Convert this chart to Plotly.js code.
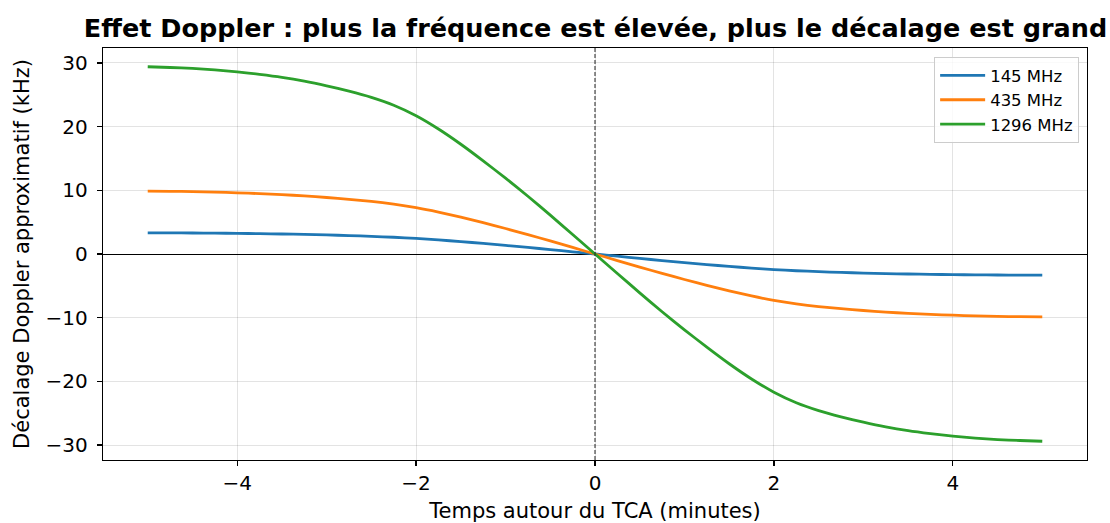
<!DOCTYPE html>
<html>
<head>
<meta charset="utf-8">
<script src="https://cdn.plot.ly/plotly-3.0.1.min.js"></script>
<style>html,body{margin:0;padding:0;background:#fff;}#chart{width:1110px;height:523px;}</style>
</head>
<body>
<div id="chart"></div>
<script>
const timeMin = [-5, -4.75, -4.5, -4.25, -4, -3.75, -3.5, -3.25, -3, -2.75, -2.5, -2.25, -2, -1.75, -1.5, -1.25, -1, -0.75, -0.5, -0.25, 0,
                 0.25, 0.5, 0.75, 1, 1.25, 1.5, 1.75, 2, 2.25, 2.5, 2.75, 3, 3.25, 3.5, 3.75, 4, 4.25, 4.5, 4.75, 5];
const shift145 = [3.33, 3.32, 3.30, 3.27, 3.24, 3.19, 3.14, 3.07, 2.99, 2.89, 2.77, 2.63, 2.45, 2.21, 1.95, 1.66, 1.35, 1.03, 0.69, 0.35, 0,
                  -0.35, -0.69, -1.03, -1.35, -1.66, -1.95, -2.21, -2.45, -2.63, -2.77, -2.89, -2.99, -3.07, -3.14, -3.19, -3.24, -3.27, -3.30, -3.32, -3.33];
const shift435 = [9.87, 9.84, 9.79, 9.71, 9.61, 9.48, 9.32, 9.12, 8.87, 8.59, 8.26, 7.84, 7.29, 6.59, 5.79, 4.91, 4.0, 3.05, 2.05, 1.03, 0,
                  -1.03, -2.05, -3.05, -4.0, -4.91, -5.79, -6.59, -7.29, -7.84, -8.26, -8.59, -8.87, -9.12, -9.32, -9.48, -9.61, -9.71, -9.79, -9.84, -9.87];
const shift1296 = [29.4, 29.28, 29.13, 28.9, 28.6, 28.21, 27.74, 27.14, 26.4, 25.56, 24.59, 23.35, 21.7, 19.62, 17.23, 14.62, 11.9, 9.07, 6.1, 3.06, 0,
                   -3.06, -6.1, -9.07, -11.9, -14.62, -17.23, -19.62, -21.7, -23.35, -24.59, -25.56, -26.4, -27.14, -27.74, -28.21, -28.6, -28.9, -29.13, -29.28, -29.4];
const seriesNames = ["145 MHz", "435 MHz", "1296 MHz"];
const seriesColors = ["#1f77b4", "#ff7f0e", "#2ca02c"];
const tcaTime = 0;

const series = [shift145, shift435, shift1296];
const traces = series.map((ys, i) => ({
  x: timeMin, y: ys, type: "scatter", mode: "lines", name: seriesNames[i],
  line: {color: seriesColors[i], width: 2.8, shape: "spline", smoothing: 0.5}
}));

const tickFont = {family: "DejaVu Sans, sans-serif", size: 20, color: "#000"};
const labelFont = {family: "DejaVu Sans, sans-serif", size: 21, color: "#000"};
const axisCommon = {
  showline: true, mirror: true, linecolor: "#000", linewidth: 1.3,
  ticks: "outside", ticklen: 5, tickwidth: 1.3, tickcolor: "#000",
  showgrid: true, gridcolor: "rgba(0,0,0,0.11)", gridwidth: 1,
  tickfont: tickFont
};

const layout = {
  width: 1110, height: 523,
  margin: {l: 103, r: 23, t: 48, b: 63},
  paper_bgcolor: "#fff", plot_bgcolor: "#fff",
  font: tickFont,
  title: {text: "<b>Effet Doppler : plus la fréquence est élevée, plus le décalage est grand</b>",
          font: {family: "DejaVu Sans, sans-serif", size: 25.5, color: "#000"},
          x: 0.5365, xanchor: "center", y: 0.946, yanchor: "middle"},
  xaxis: Object.assign({}, axisCommon, {
    range: [-5.5, 5.5], tickvals: [-4, -2, 0, 2, 4], zeroline: false, ticklabelstandoff: 0,
    title: {text: "Temps autour du TCA (minutes)", font: labelFont, standoff: 12}
  }),
  yaxis: Object.assign({}, axisCommon, {
    range: [-32.34, 32.34], tickvals: [-30, -20, -10, 0, 10, 20, 30], ticklabelstandoff: 5,
    zeroline: true, zerolinecolor: "#000", zerolinewidth: 1,
    title: {text: "Décalage Doppler approximatif (kHz)", font: labelFont, standoff: 10}
  }),
  shapes: [{type: "line", xref: "x", yref: "paper", x0: tcaTime, x1: tcaTime, y0: 0, y1: 1,
            line: {color: "#222", width: 1, dash: "4px,2px"}, layer: "above"}],
  legend: {x: 0.992, xanchor: "right", y: 0.978, yanchor: "top",
           bgcolor: "rgba(255,255,255,0.8)", bordercolor: "#ccc", borderwidth: 1,
           font: {family: "DejaVu Sans, sans-serif", size: 16.5, color: "#000"},
           tracegroupgap: 0, itemwidth: 45},
  showlegend: true
};

Plotly.newPlot("chart", traces, layout, {displayModeBar: false, staticPlot: true});
</script>
</body>
</html>
